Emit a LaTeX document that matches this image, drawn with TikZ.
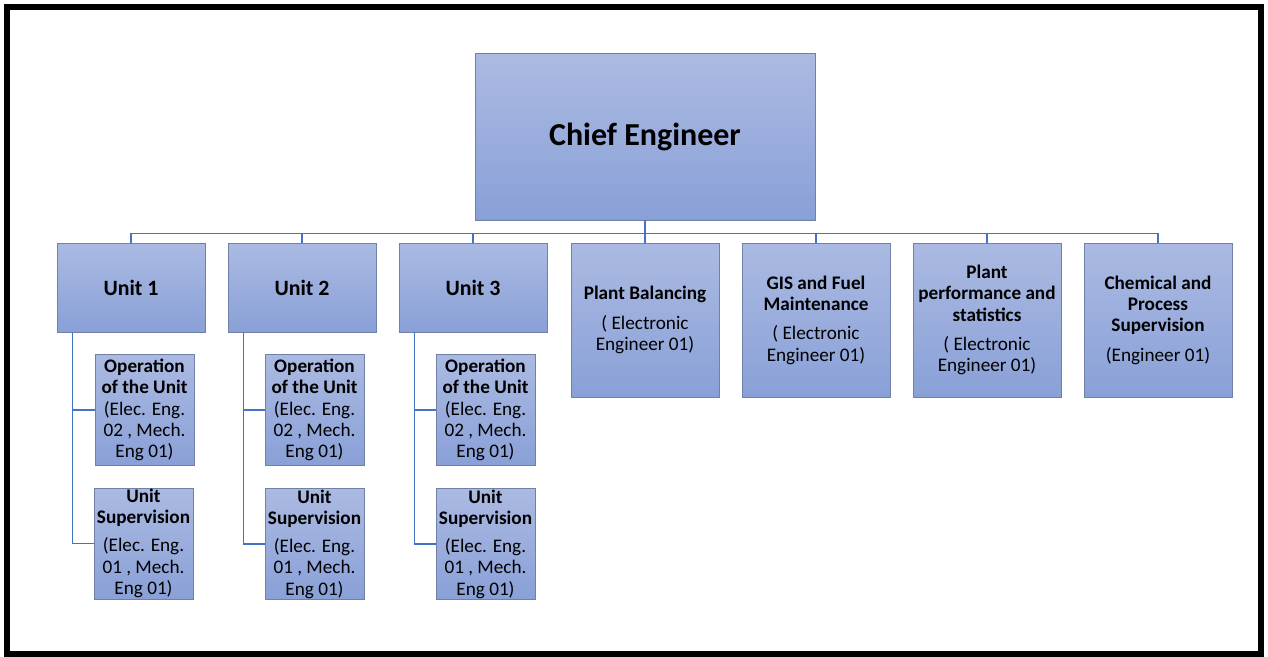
\documentclass[tikz,border=0pt]{standalone}
\usepackage{fontspec}
\setmainfont{Carlito}
\usepackage{xcolor}
\usepackage{tikz}
\usetikzlibrary{positioning, calc}
\definecolor{boxtop}{RGB}{171,186,226}
\definecolor{boxbot}{RGB}{137,160,215}
\definecolor{boxline}{RGB}{112,128,166}
\definecolor{linkblue}{RGB}{68,114,196}
\tikzset{
    chiefbox/.style={rectangle, draw=boxline, top color=boxtop, bottom color=boxbot, minimum width=255pt, minimum height=125.25pt, inner sep=0pt, font=\fontsize{24}{28}\selectfont\bfseries},
    unitbox/.style={rectangle, draw=boxline, top color=boxtop, bottom color=boxbot, minimum width=111pt, minimum height=66.75pt, inner sep=0pt, font=\fontsize{16.4}{19}\selectfont\bfseries},
    deptbox/.style={rectangle, draw=boxline, top color=boxtop, bottom color=boxbot, minimum width=111pt, minimum height=115.5pt, inner sep=0pt, align=center, font=\fontsize{14.4}{16}\selectfont},
    subbox/.style={rectangle, draw=boxline, top color=boxtop, bottom color=boxbot, minimum width=74.25pt, minimum height=83.25pt, inner sep=0pt, align=center, font=\fontsize{14.4}{16}\selectfont},
    link/.style={draw=linkblue, line width=1.1pt},
}

\begin{document}
\begin{tikzpicture}[x=0.75pt, y=-0.75pt]
    \useasboundingbox (0,0) rectangle (1268,657);
    % Outer frame
    \draw[line width=4.5pt] (7,7) rectangle (1261,654);

    % Top
    \node[chiefbox] (chief) at (645,136.5) {Chief Engineer};

    % Units
    \node[unitbox] (unit1) at (131,287.5) {Unit 1};
    \node[unitbox] (unit2) at (302,287.5) {Unit 2};
    \node[unitbox] (unit3) at (473,287.5) {Unit 3};

    % Departments
    \node[deptbox] (balancing) at (645,320) {\textbf{Plant Balancing}\\[6pt]( Electronic\\Engineer 01)};
    \node[deptbox] (gis) at (816,320) {\textbf{GIS and Fuel}\\\textbf{Maintenance}\\[6pt]( Electronic\\Engineer 01)};
    \node[deptbox] (perf) at (987,320) {\textbf{Plant}\\\textbf{performance and}\\\textbf{statistics}\\[6pt]( Electronic\\Engineer 01)};
    \node[deptbox] (chem) at (1158,320) {\textbf{Chemical and}\\\textbf{Process}\\\textbf{Supervision}\\[6pt](Engineer 01)};

    % Sections of each unit
    \node[subbox] (oper1) at (144.5,410) {\textbf{Operation}\\\textbf{of the Unit}\\(Elec. Eng.\\02 , Mech.\\Eng 01)};
    \node[subbox] (super1) at (143.5,543.5) {\textbf{Unit}\\\textbf{Supervision}\\[5pt](Elec. Eng.\\01 , Mech.\\Eng 01)};
    \node[subbox] (oper2) at (314.5,410) {\textbf{Operation}\\\textbf{of the Unit}\\(Elec. Eng.\\02 , Mech.\\Eng 01)};
    \node[subbox] (super2) at (314.5,544) {\textbf{Unit}\\\textbf{Supervision}\\[5pt](Elec. Eng.\\01 , Mech.\\Eng 01)};
    \node[subbox] (oper3) at (485.5,410) {\textbf{Operation}\\\textbf{of the Unit}\\(Elec. Eng.\\02 , Mech.\\Eng 01)};
    \node[subbox] (super3) at (485.5,544) {\textbf{Unit}\\\textbf{Supervision}\\[5pt](Elec. Eng.\\01 , Mech.\\Eng 01)};

    % Connectors from the chief
    \draw[link] (chief.south) -- ++(0,13) -| (unit1.north);
    \draw[link] (chief.south) -- ++(0,13) -| (unit2.north);
    \draw[link] (chief.south) -- ++(0,13) -| (unit3.north);
    \draw[link] (chief.south) -- (balancing.north);
    \draw[link] (chief.south) -- ++(0,13) -| (gis.north);
    \draw[link] (chief.south) -- ++(0,13) -| (perf.north);
    \draw[link] (chief.south) -- ++(0,13) -| (chem.north);

    % Connectors inside the units
    \draw[link] ([xshift=12pt]unit1.south west) |- (oper1.west);
    \draw[link] ([xshift=12pt]unit1.south west) |- (super1.west);
    \draw[link] ([xshift=12pt]unit2.south west) |- (oper2.west);
    \draw[link] ([xshift=12pt]unit2.south west) |- (super2.west);
    \draw[link] ([xshift=12pt]unit3.south west) |- (oper3.west);
    \draw[link] ([xshift=12pt]unit3.south west) |- (super3.west);
\end{tikzpicture}
\end{document}
